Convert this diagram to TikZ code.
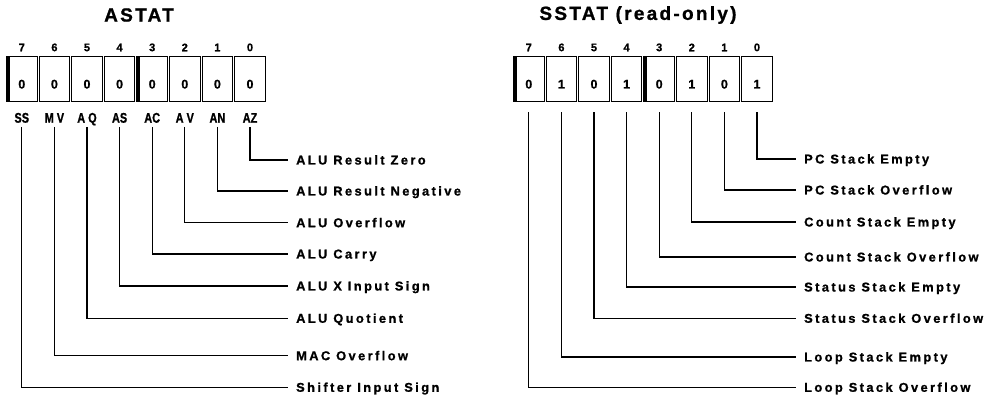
\documentclass[tikz,border=0pt]{standalone}
\usepackage{fontspec}
\setmainfont{Liberation Sans}
\newfontfamily\titlefont[LetterSpace=12,FakeBold=1]{Liberation Sans}
\newfontfamily\descfont[LetterSpace=19,FakeBold=1]{Liberation Sans}
\newfontfamily\fieldfont[FakeStretch=0.78,FakeBold=1]{Liberation Sans}
\newfontfamily\digitfont[FakeBold=1]{Liberation Sans}
\usepackage{tikz}
\usetikzlibrary{positioning}

\begin{document}
\begin{tikzpicture}[x=1pt, y=-1pt,
    cell/.style={
        rectangle,
        draw,
        line width=1pt,
        minimum width=30.6pt,
        minimum height=45pt,
        inner sep=0pt,
        text height=18pt,
        text depth=0pt,
        font=\digitfont\bfseries\fontsize{12.5}{14}\selectfont
    },
    bitno/.style={inner sep=0pt, font=\digitfont\bfseries\fontsize{11}{12}\selectfont},
    field/.style={
        inner xsep=0pt,
        inner ysep=4pt,
        text height=10pt,
        text depth=0pt,
        font=\fieldfont\bfseries\fontsize{14}{15}\selectfont
    },
    desc/.style={
        anchor=west,
        inner xsep=8pt,
        inner ysep=0pt,
        text height=9pt,
        text depth=0pt,
        font=\descfont\bfseries\fontsize{12.8}{14}\selectfont
    },
    title/.style={inner sep=0pt, font=\titlefont\bfseries\fontsize{19}{22}\selectfont},
    bar/.style={line width=4pt},
    conn/.style={line width=1.3pt}
]
\useasboundingbox (0,0) rectangle (989,395);

% --- titles ---
\node[title] (atitle) at (139,15) {ASTAT};
\node[title] (stitle) at (638,15) {SSTAT (read-only)};

% --- ASTAT register cells ---
\node[cell] (a7) at (21.8,79.5) {0};
\node[cell, right=1pt of a7] (a6) {0};
\node[cell, right=1pt of a6] (a5) {0};
\node[cell, right=1pt of a5] (a4) {0};
\node[cell, right=1pt of a4] (a3) {0};
\node[cell, right=1pt of a3] (a2) {0};
\node[cell, right=1pt of a2] (a1) {0};
\node[cell, right=1pt of a1] (a0) {0};

\draw[bar] ([xshift=2pt]a7.north west) -- ([xshift=2pt]a7.south west);
\draw[bar] ([xshift=2pt]a3.north west) -- ([xshift=2pt]a3.south west);

% --- ASTAT bit numbers ---
\node[bitno, above=5pt of a7] (an7) {7};
\node[bitno, above=5pt of a6] (an6) {6};
\node[bitno, above=5pt of a5] (an5) {5};
\node[bitno, above=5pt of a4] (an4) {4};
\node[bitno, above=5pt of a3] (an3) {3};
\node[bitno, above=5pt of a2] (an2) {2};
\node[bitno, above=5pt of a1] (an1) {1};
\node[bitno, above=5pt of a0] (an0) {0};

% --- ASTAT field names ---
\node[field, below=6pt of a7] (ss) {SS};
\node[field, below=6pt of a6] (mv) {M V};
\node[field, below=6pt of a5] (aq) {A Q};
\node[field, below=6pt of a4] (as) {AS};
\node[field, below=6pt of a3] (ac) {AC};
\node[field, below=6pt of a2] (av) {A V};
\node[field, below=6pt of a1] (an) {AN};
\node[field, below=6pt of a0] (az) {AZ};

% --- ASTAT descriptions ---
\node[desc] (daz) at (288,160)   {ALU Result Zero};
\node[desc] (dan) at (288,191)   {ALU Result Negative};
\node[desc] (dav) at (288,222.7) {ALU Overflow};
\node[desc] (dac) at (288,254)   {ALU Carry};
\node[desc] (das) at (288,286)   {ALU X Input Sign};
\node[desc] (daq) at (288,318.3) {ALU Quotient};
\node[desc] (dmv) at (288,355.7) {MAC Overflow};
\node[desc] (dss) at (288,387.3) {Shifter Input Sign};

\draw[conn] (az.south) |- (daz.west);
\draw[conn] (an.south) |- (dan.west);
\draw[conn] (av.south) |- (dav.west);
\draw[conn] (ac.south) |- (dac.west);
\draw[conn] (as.south) |- (das.west);
\draw[conn] (aq.south) |- (daq.west);
\draw[conn] (mv.south) |- (dmv.west);
\draw[conn] (ss.south) |- (dss.west);

% --- SSTAT register cells ---
\node[cell] (s7) at (528.8,79.5) {0};
\node[cell, right=1pt of s7] (s6) {1};
\node[cell, right=1pt of s6] (s5) {0};
\node[cell, right=1pt of s5] (s4) {1};
\node[cell, right=1pt of s4] (s3) {0};
\node[cell, right=1pt of s3] (s2) {1};
\node[cell, right=1pt of s2] (s1) {0};
\node[cell, right=1pt of s1] (s0) {1};

\draw[bar] ([xshift=2pt]s7.north west) -- ([xshift=2pt]s7.south west);
\draw[bar] ([xshift=2pt]s3.north west) -- ([xshift=2pt]s3.south west);

% --- SSTAT bit numbers ---
\node[bitno, above=5pt of s7] (sn7) {7};
\node[bitno, above=5pt of s6] (sn6) {6};
\node[bitno, above=5pt of s5] (sn5) {5};
\node[bitno, above=5pt of s4] (sn4) {4};
\node[bitno, above=5pt of s3] (sn3) {3};
\node[bitno, above=5pt of s2] (sn2) {2};
\node[bitno, above=5pt of s1] (sn1) {1};
\node[bitno, above=5pt of s0] (sn0) {0};

% --- SSTAT descriptions ---
\node[desc] (dpce) at (796,159)   {PC Stack Empty};
\node[desc] (dpco) at (796,190)   {PC Stack Overflow};
\node[desc] (dcse) at (796,222)   {Count Stack Empty};
\node[desc] (dcso) at (796,257)   {Count Stack Overflow};
\node[desc] (dsse) at (796,287)   {Status Stack Empty};
\node[desc] (dsso) at (796,318.3) {Status Stack Overflow};
\node[desc] (dlse) at (796,357)   {Loop Stack Empty};
\node[desc] (dlso) at (796,387.3) {Loop Stack Overflow};

\draw[conn] ([yshift=-10pt]s0.south) |- (dpce.west);
\draw[conn] ([yshift=-10pt]s1.south) |- (dpco.west);
\draw[conn] ([yshift=-10pt]s2.south) |- (dcse.west);
\draw[conn] ([yshift=-10pt]s3.south) |- (dcso.west);
\draw[conn] ([yshift=-10pt]s4.south) |- (dsse.west);
\draw[conn] ([yshift=-10pt]s5.south) |- (dsso.west);
\draw[conn] ([yshift=-10pt]s6.south) |- (dlse.west);
\draw[conn] ([yshift=-10pt]s7.south) |- (dlso.west);

\end{tikzpicture}
\end{document}
